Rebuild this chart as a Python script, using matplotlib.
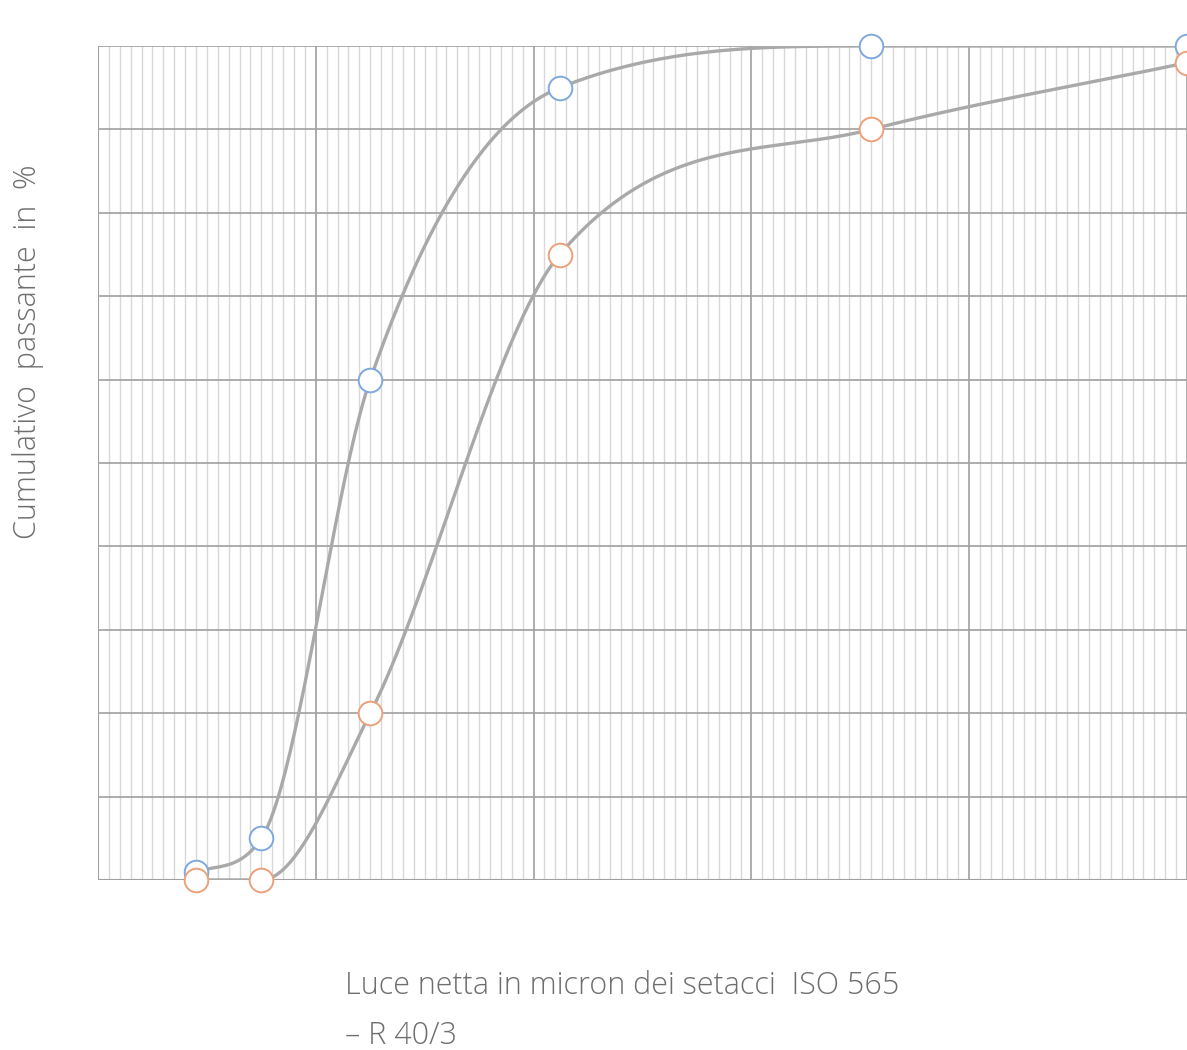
import numpy as np
import matplotlib
matplotlib.use("Agg")
import matplotlib.pyplot as plt
from matplotlib.ticker import MultipleLocator

# sieve openings (micron) and cumulative passing (%)
sieves = [45, 75, 125, 212, 355, 500]
series_a = [1, 5, 60, 95, 100, 100]
series_b = [0, 0, 20, 75, 90, 98]

line_col = "#a9a9a9"
blue = "#80a8de"
orange = "#eda07a"


def monotone(x, y, n=400):
    # Fritsch-Carlson monotone cubic, like the chart library's "monotone" mode
    x = np.asarray(x, float)
    y = np.asarray(y, float)
    h = np.diff(x)
    d = np.diff(y) / h
    m = np.zeros_like(y)
    m[0], m[-1] = d[0], d[-1]
    for i in range(1, len(x) - 1):
        m[i] = 0 if d[i - 1] * d[i] <= 0 else (d[i - 1] + d[i]) / 2
    for i in range(len(d)):
        if d[i] == 0:
            m[i] = m[i + 1] = 0
            continue
        a, b = m[i] / d[i], m[i + 1] / d[i]
        s = a * a + b * b
        if s > 9:
            t = 3 / np.sqrt(s)
            m[i], m[i + 1] = t * a * d[i], t * b * d[i]
    xs = np.linspace(x[0], x[-1], n)
    ys = np.empty_like(xs)
    for j, xv in enumerate(xs):
        i = min(np.searchsorted(x, xv, side="right") - 1, len(x) - 2)
        t = (xv - x[i]) / h[i]
        h00 = 2 * t**3 - 3 * t**2 + 1
        h10 = t**3 - 2 * t**2 + t
        h01 = -2 * t**3 + 3 * t**2
        h11 = t**3 - t**2
        ys[j] = h00 * y[i] + h10 * h[i] * m[i] + h01 * y[i + 1] + h11 * h[i] * m[i + 1]
    return xs, ys


plt.rcParams["font.family"] = ["Open Sans", "DejaVu Sans"]

fig = plt.figure(figsize=(11.87, 10.5), dpi=100)
ax = fig.add_axes([98 / 1187, 1 - 880 / 1050, 1 - 98 / 1187, 834 / 1050])

ax.set_xlim(0, 500)
ax.set_ylim(0, 100)
ax.xaxis.set_major_locator(MultipleLocator(100))
ax.xaxis.set_minor_locator(MultipleLocator(5))
ax.yaxis.set_major_locator(MultipleLocator(10))
ax.grid(which="minor", axis="x", color="#d8d8d8", lw=1)
ax.grid(which="major", axis="both", color="#a0a0a0", lw=1.2)
ax.set_axisbelow(True)
ax.tick_params(which="both", length=0, labelbottom=False, labelleft=False)
for sp in ax.spines.values():
    sp.set_visible(False)
ax.axhline(0, color="#a0a0a0", lw=1.5, zorder=1)
ax.axvline(0, color="#a0a0a0", lw=1.5, zorder=1)

for ys, col in [(series_a, blue), (series_b, orange)]:
    cx, cy = monotone(sieves, ys)
    ax.plot(cx, cy, color=line_col, lw=2.4, zorder=3, solid_capstyle="round")
    ax.plot(sieves, ys, "o", ms=17, mfc="white", mec=col, mew=1.4,
            zorder=4, clip_on=False)

fig.text(28 / 1187, 1 - 352 / 1050, "Cumulativo  passante  in  %", rotation=90,
         ha="center", va="center", fontsize=22, color="#6e6e6e", weight="light")
fig.text(345 / 1187, 1 - 970 / 1050, "Luce netta in micron dei setacci  ISO 565\n– R 40/3",
         ha="left", va="top", fontsize=22, color="#6e6e6e", weight="light",
         linespacing=1.75)

fig.savefig("out.png", dpi=100)
